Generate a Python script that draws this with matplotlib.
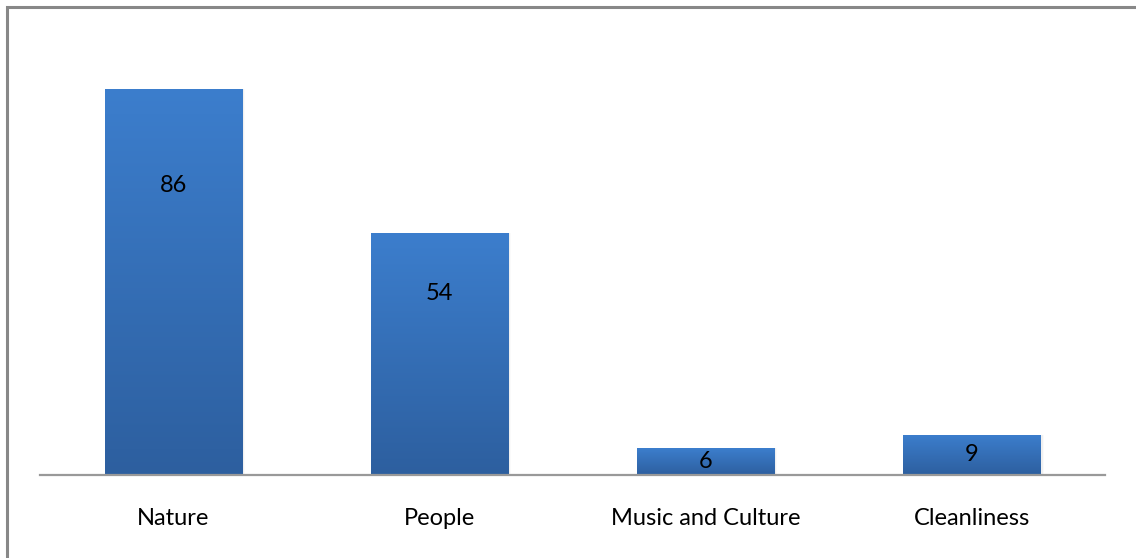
import numpy as np
import matplotlib
matplotlib.use("Agg")
import matplotlib.pyplot as plt
from matplotlib.patches import Rectangle
from matplotlib.colors import LinearSegmentedColormap

categories = ["Nature", "People", "Music and Culture", "Cleanliness"]
values = [86, 54, 6, 9]

W, H = 1136, 558
dpi = 100
fig = plt.figure(figsize=(W / dpi, H / dpi), dpi=dpi)
fig.patch.set_facecolor("white")

# frame around the chart area (right and bottom edges run off the canvas)
fig.patches.append(Rectangle((6.5 / W, -0.1), 1.2, (H - 7.5) / H + 0.1,
                             transform=fig.transFigure, fill=False,
                             edgecolor="#888888", linewidth=2.2))

left, right = 40 / W, 1105 / W
base_y, top_y = 475, 26
ax = fig.add_axes([left, 1 - base_y / H, right - left, (base_y - top_y) / H])
ax.set_xlim(-0.5, len(categories) - 0.5)
ax.set_ylim(0, 100)
for s in ["top", "right", "left"]:
    ax.spines[s].set_visible(False)
ax.spines["bottom"].set_color("#999999")
ax.spines["bottom"].set_linewidth(1.6)
ax.set_yticks([])
ax.set_xticks(range(len(categories)))
ax.set_xticklabels(categories, fontsize=17, family="Lato")
ax.tick_params(axis="x", length=0, pad=24)

cmap = LinearSegmentedColormap.from_list("bar", ["#2d5f9f", "#3c7ecd"])
grad = np.linspace(0, 1, 256).reshape(-1, 1)
width = 0.515
for i, v in enumerate(values):
    x0 = i - width / 2
    # faint drop shadow to the right
    for k, a in enumerate([0.06, 0.04, 0.02]):
        ax.add_patch(Rectangle((x0 + 0.004 * (k + 1), 0), width, v,
                               facecolor="black", alpha=a, edgecolor="none", zorder=1))
    bar = Rectangle((x0, 0), width, v, facecolor="none", edgecolor="none", zorder=2)
    ax.add_patch(bar)
    im = ax.imshow(grad, extent=[x0, x0 + width, 0, v], origin="lower",
                   cmap=cmap, aspect="auto", zorder=2)
    im.set_clip_path(bar)
    ly = v * 0.75 if v > 20 else v / 2
    ax.text(i, ly, str(v), ha="center", va="center", fontsize=17,
            family="Lato", color="black", zorder=3)

fig.savefig("out.png", dpi=dpi)
